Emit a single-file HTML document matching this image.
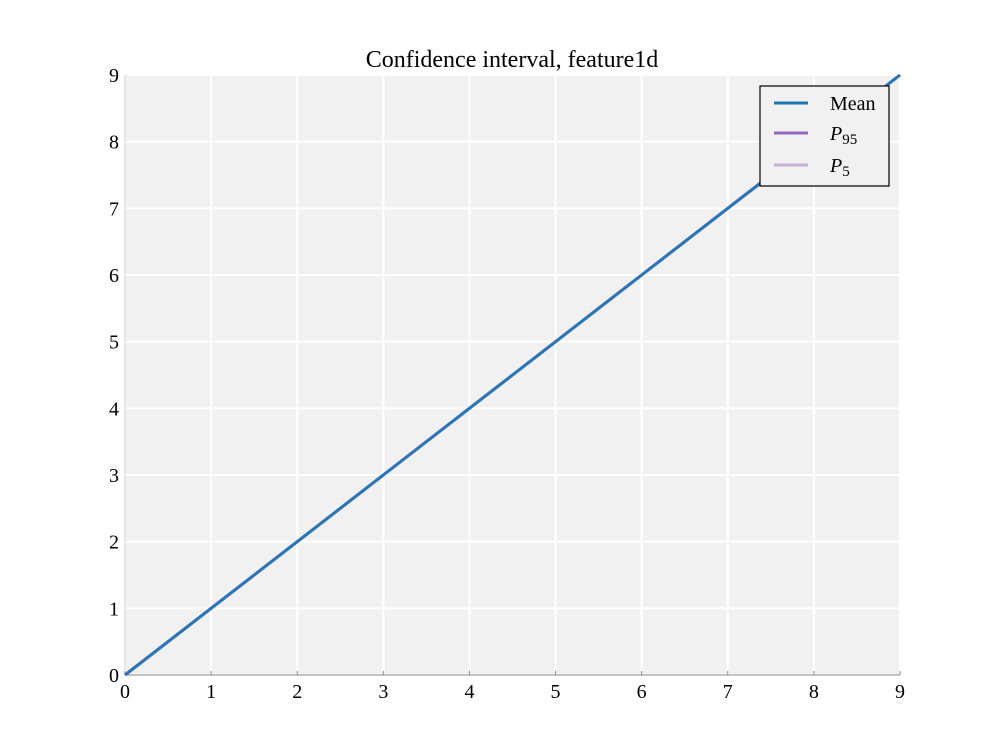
<!DOCTYPE html>
<html><head><meta charset="utf-8"><style>
body{margin:0;background:#fff}
svg{display:block;font-family:"Liberation Serif","DejaVu Serif",serif}
</style></head><body>
<svg id="chart" width="1000" height="750">
<rect x="125" y="75" width="775" height="600" fill="#f1f1f1"/>
<g id="grid"></g>
<line x1="125" y1="675" x2="900" y2="675" stroke="#888" stroke-width="1"/>
<line x1="125" y1="75" x2="125" y2="675" stroke="#ccc" stroke-width="1"/>
<g id="ticks"></g>
<g id="series"></g>
<text x="512" y="67" font-size="24" text-anchor="middle">Confidence interval, feature1d</text>
<g>
<rect x="760" y="86" width="129" height="100" fill="#f1f1f1" stroke="#000" stroke-width="1.2"/>
<line x1="774" y1="103" x2="808" y2="103" stroke="#1f77b4" stroke-width="3"/>
<text x="830" y="110" font-size="20">Mean</text>
<line x1="774" y1="133" x2="808" y2="133" stroke="#9467bd" stroke-width="3"/>
<text x="830" y="140" font-size="20" font-style="italic">P<tspan font-style="normal" font-size="15" dy="4">95</tspan></text>
<line x1="774" y1="165" x2="808" y2="165" stroke="#c5b0d5" stroke-width="3"/>
<text x="830" y="172" font-size="20" font-style="italic">P<tspan font-style="normal" font-size="15" dy="4">5</tspan></text>
</g>
</svg>
<script>
const xVals=[0,1,2,3,4,5,6,7,8,9];
const meanVals=[0,1,2,3,4,5,6,7,8,9];
const p95Vals=[0,1,2,3,4,5,6,7,8,9];
const p5Vals=[0,1,2,3,4,5,6,7,8,9];
const xTicks=[0,1,2,3,4,5,6,7,8,9];
const yTicks=[0,1,2,3,4,5,6,7,8,9];
const NS="http://www.w3.org/2000/svg";
const sx=v=>125+v*(775/9), sy=v=>675-v*(600/9);
const grid=document.getElementById('grid'),ticks=document.getElementById('ticks'),series=document.getElementById('series');
function mk(t,a,p){const e=document.createElementNS(NS,t);for(const k in a)e.setAttribute(k,a[k]);p.appendChild(e);return e;}
xTicks.forEach(v=>{
 const g=mk('line',{x1:sx(v),x2:sx(v),y1:75,y2:675,stroke:'#fff','stroke-width':2},grid);
 
 
 const tk=mk('line',{x1:sx(v),x2:sx(v),y1:675,y2:671,stroke:'#888'},ticks);
 
 
 const t=mk('text',{x:sx(v),y:698,'font-size':20,'text-anchor':'middle'},ticks);t.textContent=v;
 
 
});
yTicks.forEach(v=>{
 const g=mk('line',{x1:125,x2:900,y1:sy(v),y2:sy(v),stroke:'#fff','stroke-width':2},grid);
 
 
 const t=mk('text',{x:119,y:sy(v)+7,'font-size':20,'text-anchor':'end'},ticks);t.textContent=v;
 
 
});
function line(vals,color,name){
 const p=mk('polyline',{points:xVals.map((x,i)=>sx(x)+','+sy(vals[i])).join(' '),fill:'none',stroke:color,'stroke-width':3},series);
 
 
}
line(p5Vals,'#c5b0d5','p5-line');
line(p95Vals,'#9467bd','p95-line');
line(meanVals,'#2a77b4','mean-line');
</script>
</body></html>
